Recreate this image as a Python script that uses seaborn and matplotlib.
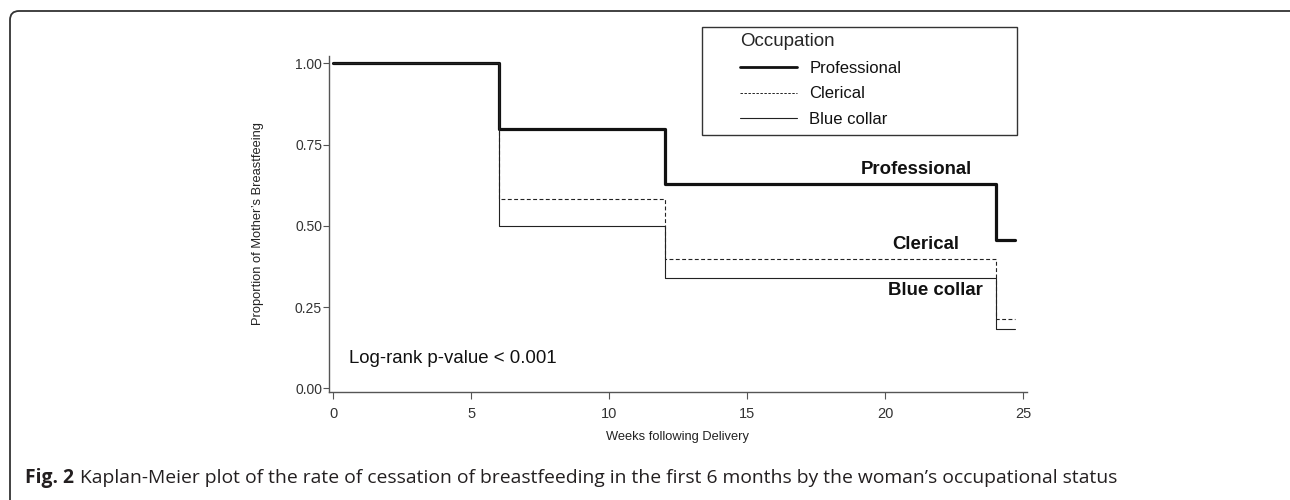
import matplotlib
matplotlib.use("Agg")
import matplotlib.pyplot as plt
from matplotlib.lines import Line2D
from matplotlib.patches import FancyBboxPatch, Rectangle
from matplotlib.transforms import IdentityTransform
import pandas as pd
import seaborn as sns

# ---- data ----
occupations = ["Professional", "Clerical", "Blue collar"]
weeks = [0, 6, 12, 24, 24.7]
professional = [1.0, 0.797, 0.628, 0.456, 0.456]
clerical = [1.0, 0.584, 0.398, 0.213, 0.213]
blue_collar = [1.0, 0.499, 0.340, 0.181, 0.181]
x_ticks = [0, 5, 10, 15, 20, 25]
y_ticks = [0.00, 0.25, 0.50, 0.75, 1.00]
y_tick_labels = ["0.00", "0.25", "0.50", "0.75", "1.00"]

sns.set_theme(style="white")
plt.rcParams["font.family"] = ["Liberation Sans", "DejaVu Sans"]

rows = []
for name, vals in zip(occupations, [professional, clerical, blue_collar]):
    for w, v in zip(weeks, vals):
        rows.append({"weeks": w, "survival": v, "occupation": name})
df = pd.DataFrame(rows)

W, H = 1290, 500
fig = plt.figure(figsize=(W / 100, H / 100), dpi=100)
fig.patch.set_facecolor("white")

# axes placement in pixels: left 329, right 1027, top 56, bottom 392
ax = fig.add_axes([329 / W, 1 - 392 / H, (1027 - 329) / W, (392 - 56) / H])

sns.lineplot(
    data=df, x="weeks", y="survival",
    hue="occupation", style="occupation", size="occupation",
    palette={"Professional": "#111111", "Clerical": "#222222", "Blue collar": "#222222"},
    dashes={"Professional": "", "Clerical": (3.5, 2.2), "Blue collar": ""},
    sizes={"Professional": 2.3, "Clerical": 0.8, "Blue collar": 0.8},
    drawstyle="steps-post", estimator=None, sort=False, legend=False, ax=ax,
)

ax.set_xlim(-0.156, 25.13)
ax.set_ylim(-0.0114, 1.0225)
ax.set_xticks(x_ticks)
ax.set_xticklabels([str(t) for t in x_ticks], fontsize=10.5, color="#333333")
ax.set_yticks(y_ticks)
ax.set_yticklabels(y_tick_labels, fontsize=10, color="#333333")
ax.tick_params(axis="x", bottom=True, length=5, width=0.8, color="#555555", pad=6)
ax.tick_params(axis="y", left=True, length=4.5, width=0.8, color="#555555", pad=0.5)
for s in ["top", "right"]:
    ax.spines[s].set_visible(False)
for s in ["left", "bottom"]:
    ax.spines[s].set_color("#555555")
    ax.spines[s].set_linewidth(1.0)

ax.set_xlabel("Weeks following Delivery", fontsize=9.3, color="#222222")
ax.set_ylabel("Proportion of Mother\u2019s Breastfeeing", fontsize=9.3, color="#222222")
ax.xaxis.set_label_coords(0.5, -0.116)
ax.yaxis.set_label_coords(-0.093, 0.5)

# curve labels
ax.text(21.14, 0.672, "Professional", fontsize=13.4, fontweight="bold",
        ha="center", va="center", color="#111111")
ax.text(21.47, 0.444, "Clerical", fontsize=13.4, fontweight="bold",
        ha="center", va="center", color="#111111")
ax.text(21.83, 0.302, "Blue collar", fontsize=13.4, fontweight="bold",
        ha="center", va="center", color="#111111")
ax.text(0.57, 0.093, "Log-rank p-value < 0.001", fontsize=13.4,
        ha="left", va="center", color="#111111")

# legend box
fig.patches.append(Rectangle((702 / W, 1 - 135 / H), (1017 - 702) / W, (135 - 27) / H,
                             transform=fig.transFigure, fill=False,
                             edgecolor="#333333", linewidth=1.0))
handles = [
    Line2D([], [], color="#111111", lw=2.0),
    Line2D([], [], color="#222222", lw=0.7, dashes=(2.5, 1.6)),
    Line2D([], [], color="#222222", lw=0.8),
]
leg = fig.legend(handles, occupations, title="Occupation", loc="upper left",
                 bbox_to_anchor=(740 / W, 1 - 33 / H), frameon=False,
                 fontsize=12, title_fontsize=13.5, alignment="left",
                 handlelength=3.4, handletextpad=0.75, labelspacing=0.64,
                 borderpad=0, borderaxespad=0)
for t in leg.get_texts():
    t.set_color("#111111")

# outer rounded frame
frame = FancyBboxPatch((10, -30), 1300, 489 + 30, boxstyle="round,pad=0,rounding_size=9",
                       transform=IdentityTransform(), fill=False,
                       edgecolor="#333333", linewidth=1.3, clip_on=False)
fig.patches.append(frame)

# caption
cap_font = ["Open Sans", "DejaVu Sans"]
t1 = fig.text(25 / W, 1 - 478 / H, "Fig. 2", fontsize=13.9, fontweight="bold",
              family=cap_font, color="#231f20", ha="left", va="center")
fig.canvas.draw()
bb = t1.get_window_extent(fig.canvas.get_renderer())
fig.text((bb.x1 + 6) / W, 1 - 478 / H,
         "Kaplan-Meier plot of the rate of cessation of breastfeeding in the first 6 months by the woman\u2019s occupational status",
         fontsize=13.9, family=cap_font, color="#231f20", ha="left", va="center")

fig.savefig("out.png", dpi=100, facecolor="white")
